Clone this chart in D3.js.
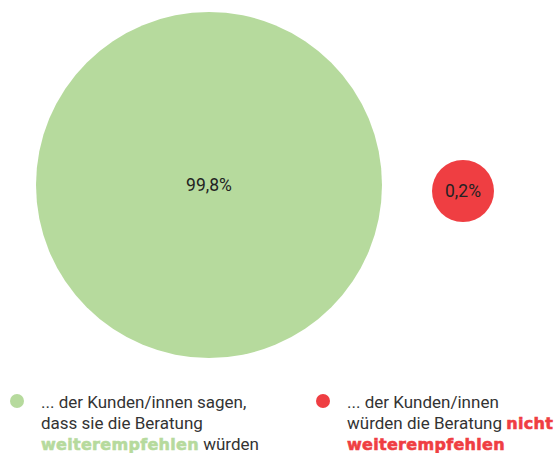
<!DOCTYPE html>
<html>
<head>
<meta charset="utf-8">
<script src="https://cdn.jsdelivr.net/npm/d3@7"></script>
<style>
  body { margin: 0; background: #fff; }
  text { font-family: Roboto, "Noto Sans", sans-serif; }
  .strong { font-family: "DejaVu Sans", sans-serif; font-weight: bold; }
</style>
</head>
<body>
<script>
const width = 558, height = 453

// data
const categories = ["empfehlen", "nicht empfehlen"]
const values = [99.8, 0.2]
const labels = ["99,8%", "0,2%"]
const colors = ["#b6da9d", "#ef3e42"]

let svg = d3.select("body")
    .append("svg")
    .attr("width", width)
    .attr("height", height)

// bubble size (small one gets a minimum size)
const r = d3.scaleLinear()
    .domain([0.2, 99.8])
    .range([31, 173])

const x = d3.scalePoint()
    .domain(categories)
    .range([209, 463])

const y = d3.scalePoint()
    .domain(categories)
    .range([185, 191])

let g = svg.append("g")

g.selectAll("circle")
    .data(values)
    .join("circle")
    .attr("cx", (d, i) => x(categories[i]))
    .attr("cy", (d, i) => y(categories[i]))
    .attr("r", d => r(d))
    .attr("fill", (d, i) => colors[i])

g.selectAll("text.val")
    .data(labels)
    .join("text")
    .attr("class", "val")
    .attr("x", (d, i) => x(categories[i]))
    .attr("y", (d, i) => y(categories[i]) + 6)
    .attr("text-anchor", "middle")
    .attr("font-size", 17.5)
    .attr("fill", "#222")
    .text(d => d)

// legend
const legend = [
    { x: 17, lines: [
        [["... der Kunden/innen sagen,", false]],
        [["dass sie die Beratung", false]],
        [["weiterempfehlen", true], [" würden", false]]
    ]},
    { x: 323, lines: [
        [["... der Kunden/innen", false]],
        [["würden die Beratung ", false], ["nicht", true]],
        [["weiterempfehlen", true]]
    ]}
]

legend.forEach((l, i) => {
    svg.append("circle")
        .attr("cx", l.x)
        .attr("cy", 401)
        .attr("r", 7)
        .attr("fill", colors[i])
    let t = svg.append("text")
        .attr("font-size", 17)
        .attr("fill", "#333")
    l.lines.forEach((line, j) => {
        line.forEach((part, k) => {
            let ts = t.append("tspan").text(part[0])
            if (k == 0) ts.attr("x", l.x + 24).attr("y", 408 + j * 21)
            if (part[1]) ts.attr("class", "strong")
                .attr("font-size", 16)
                .attr("letter-spacing", 0.3)
                .attr("fill", colors[i])
                .attr("stroke", colors[i])
                .attr("stroke-width", 0.6)
        })
    })
})
</script>
</body>
</html>
